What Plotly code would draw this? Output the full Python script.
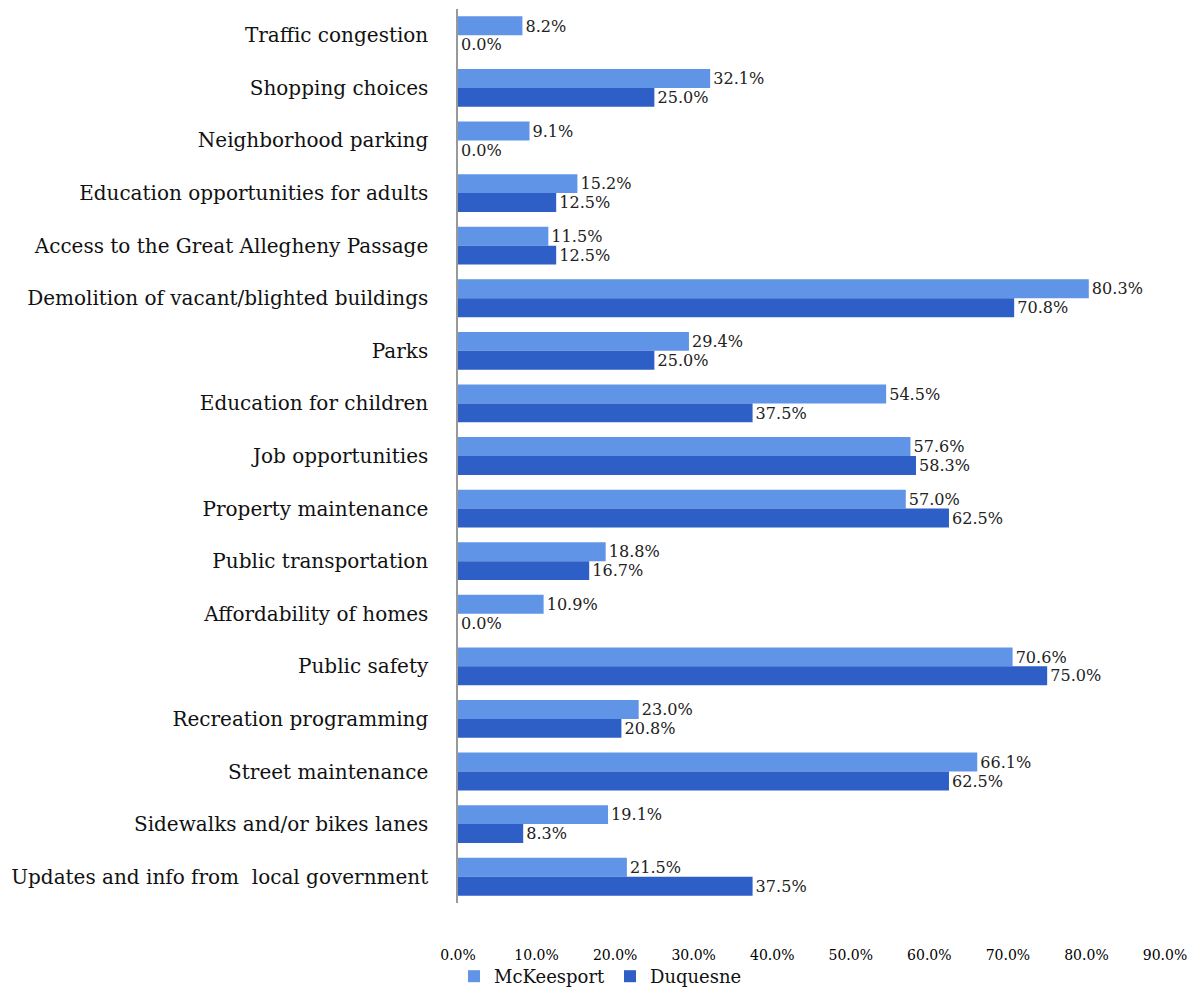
import plotly.graph_objects as go

categories = [
    "Traffic congestion",
    "Shopping choices",
    "Neighborhood parking",
    "Education opportunities for adults",
    "Access to the Great Allegheny Passage",
    "Demolition of vacant/blighted buildings",
    "Parks",
    "Education for children",
    "Job opportunities",
    "Property maintenance",
    "Public transportation",
    "Affordability of homes",
    "Public safety",
    "Recreation programming",
    "Street maintenance",
    "Sidewalks and/or bikes lanes",
    "Updates and info from  local government",
]
mckeesport = [8.2, 32.1, 9.1, 15.2, 11.5, 80.3, 29.4, 54.5, 57.6, 57.0, 18.8, 10.9, 70.6, 23.0, 66.1, 19.1, 21.5]
duquesne = [0.0, 25.0, 0.0, 12.5, 12.5, 70.8, 25.0, 37.5, 58.3, 62.5, 16.7, 0.0, 75.0, 20.8, 62.5, 8.3, 37.5]
x_ticks = [0, 10, 20, 30, 40, 50, 60, 70, 80, 90]

serif = "DejaVu Serif, serif"

fig = go.Figure()
fig.add_trace(go.Bar(
    y=categories, x=mckeesport, name="McKeesport", orientation="h",
    marker=dict(color="#5f94e6", line=dict(width=0)),
    texttemplate="%{x:.1f}%", textposition="outside",
    textfont=dict(family=serif, size=17, color="#222"),
    cliponaxis=False,
))
fig.add_trace(go.Bar(
    y=categories, x=duquesne, name="Duquesne", orientation="h",
    marker=dict(color="#2d5fc6", line=dict(width=0)),
    texttemplate="%{x:.1f}%", textposition="outside",
    textfont=dict(family=serif, size=17, color="#222"),
    cliponaxis=False,
))

fig.update_layout(
    width=1201, height=995,
    margin=dict(l=458, r=36, t=9, b=92),
    paper_bgcolor="white", plot_bgcolor="white",
    barmode="group", bargap=0.28, bargroupgap=0,
    font=dict(family=serif, color="#111"),
    showlegend=True,
    legend=dict(orientation="h", xref="container", yref="container",
                x=0.5, xanchor="center", y=0.0, yanchor="bottom",
                bgcolor="rgba(0,0,0,0)",
                font=dict(family=serif, size=18, color="#111"),
                traceorder="normal", itemwidth=30, tracegroupgap=0),
    xaxis=dict(range=[0, 90], tickvals=x_ticks,
               ticktext=[f"{v:.1f}%" for v in x_ticks],
               showgrid=False, zeroline=False, showline=False,
               tickfont=dict(family=serif, size=14, color="#000"),
               ticks="", ticklabelstandoff=42, automargin=False),
    yaxis=dict(autorange="reversed", showgrid=False, zeroline=False,
               showline=True, linecolor="#999", linewidth=1.5,
               ticks="", ticklabelstandoff=24, automargin=False,
               tickfont=dict(family=serif, size=20, color="#111")),
)

fig.write_html("out.html")
